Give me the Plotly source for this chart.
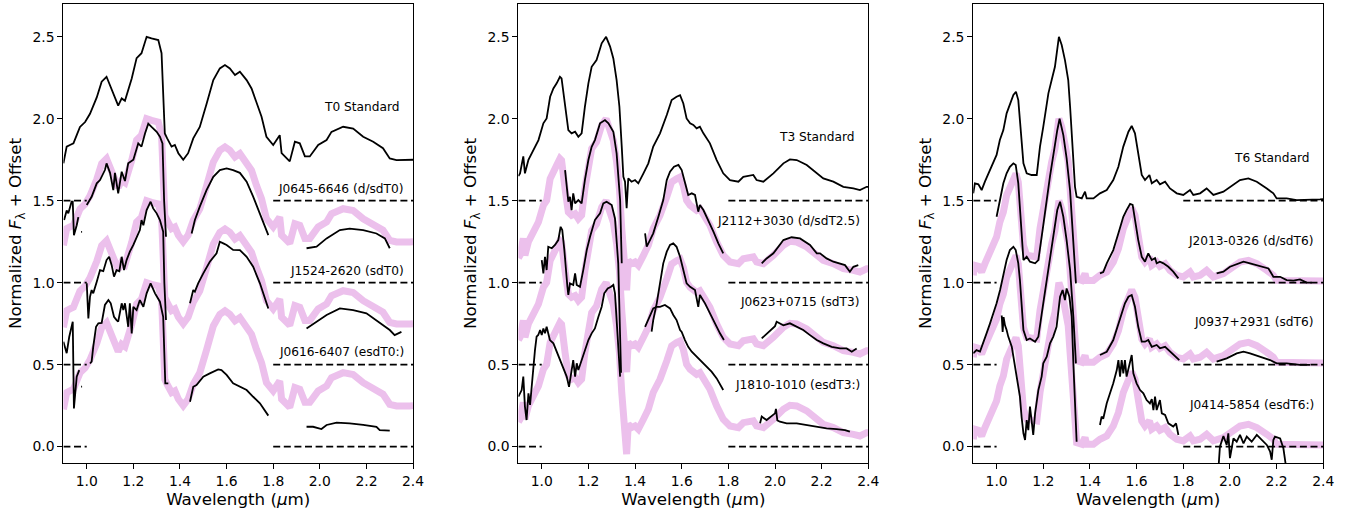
import plotly.graph_objects as go

FONT = "DejaVu Sans"
PINK = "rgb(236,192,236)"
BLACK = "black"

# Zero level of each spectrum in a panel: standard first, then the three objects
zero_levels = [1.5, 1.0, 0.5, 0.0]

# ---------------- T0 panel ----------------
t0_std_wl = [0.900, 0.914, 0.928, 0.943, 0.957, 0.971, 0.993, 1.014, 1.043, 1.064, 1.085, 1.107,
             1.135, 1.150, 1.164, 1.193, 1.214, 1.235, 1.257, 1.278, 1.307, 1.321, 1.335, 1.345,
             1.364, 1.378, 1.393, 1.414, 1.435, 1.457, 1.485, 1.514, 1.543, 1.571, 1.593, 1.614,
             1.636, 1.657, 1.686, 1.707, 1.728, 1.750, 1.771, 1.800, 1.828, 1.836, 1.871, 1.893,
             1.914, 1.936, 1.957, 1.993, 2.029, 2.050, 2.100, 2.143, 2.186, 2.229, 2.271, 2.300,
             2.329, 2.386, 2.400]
t0_std_fx = [1.728, 1.830, 1.840, 1.850, 1.900, 1.950, 1.980, 2.030, 2.130, 2.226, 2.256, 2.175,
             2.080, 2.124, 2.110, 2.246, 2.370, 2.400, 2.500, 2.490, 2.480, 2.400, 1.910, 1.880,
             1.830, 1.840, 1.790, 1.750, 1.790, 1.880, 1.950, 2.090, 2.236, 2.307, 2.328, 2.307,
             2.267, 2.287, 2.236, 2.185, 2.094, 2.012, 1.890, 1.840, 1.900, 1.790, 1.740, 1.860,
             1.850, 1.770, 1.770, 1.840, 1.870, 1.920, 1.951, 1.940, 1.890, 1.860, 1.820, 1.758,
             1.748, 1.748, 1.750]

j0645 = [
    ([0.903, 0.914, 0.921, 0.935, 0.940, 0.945, 0.957, 0.964],
     [1.382, 1.440, 1.423, 1.494, 1.494, 1.290, 1.350, 1.400]),
    ([0.976, 0.980], [1.310, 1.310]),
    ([1.000, 1.021, 1.043, 1.057, 1.078, 1.085, 1.100, 1.114, 1.121, 1.135, 1.150, 1.164, 1.178,
      1.200, 1.221, 1.235, 1.250, 1.264, 1.278, 1.300, 1.314, 1.325, 1.332, 1.340],
     [1.474, 1.524, 1.606, 1.626, 1.687, 1.728, 1.670, 1.565, 1.670, 1.545, 1.677, 1.620, 1.728,
      1.750, 1.850, 1.830, 1.910, 1.970, 1.950, 1.920, 1.890, 1.850, 1.500, 1.280]),
    ([1.450, 1.464, 1.485, 1.514, 1.543, 1.571, 1.600, 1.628, 1.657, 1.686, 1.714, 1.743, 1.779],
     [1.300, 1.382, 1.464, 1.565, 1.646, 1.687, 1.697, 1.687, 1.670, 1.616, 1.525, 1.423, 1.290]),
    ([1.943, 1.986, 2.029, 2.086, 2.128, 2.186, 2.243, 2.279, 2.300],
     [1.210, 1.220, 1.270, 1.321, 1.330, 1.320, 1.300, 1.270, 1.210]),
]

j1524 = [
    ([1.000, 1.007, 1.014, 1.021, 1.028, 1.035, 1.043, 1.057, 1.071, 1.085, 1.096, 1.107, 1.117,
      1.128, 1.140, 1.150, 1.160, 1.171, 1.185, 1.200, 1.214, 1.228, 1.235, 1.243, 1.257, 1.274,
      1.285, 1.300, 1.314, 1.321, 1.328, 1.333, 1.340],
     [0.996, 0.782, 0.914, 0.955, 0.935, 0.975, 1.006, 1.077, 1.070, 1.138, 1.158, 1.107, 1.037,
      1.077, 1.070, 1.158, 1.077, 1.138, 1.189, 1.230, 1.280, 1.321, 1.382, 1.350, 1.443, 1.494,
      1.453, 1.423, 1.382, 1.341, 1.311, 1.000, 0.772]),
    ([1.443, 1.457, 1.464, 1.478, 1.500, 1.528, 1.557, 1.571, 1.586, 1.600, 1.628, 1.657, 1.686,
      1.714, 1.743, 1.779],
     [0.874, 0.955, 0.945, 0.996, 1.057, 1.128, 1.179, 1.250, 1.240, 1.230, 1.200, 1.199, 1.158,
      1.097, 0.996, 0.843]),
    ([1.943, 1.986, 2.029, 2.086, 2.143, 2.200, 2.257, 2.300, 2.321, 2.350],
     [0.721, 0.762, 0.803, 0.843, 0.833, 0.813, 0.752, 0.711, 0.680, 0.700]),
]

j0616 = [
    ([0.900, 0.914, 0.925, 0.940, 0.945, 0.957, 0.968],
     [0.640, 0.570, 0.670, 0.762, 0.233, 0.427, 0.467]),
    ([0.976, 0.980], [0.366, 0.366]),
    ([1.014, 1.021, 1.028, 1.040, 1.050, 1.064, 1.078, 1.093, 1.103, 1.117, 1.128, 1.135, 1.150,
      1.157, 1.164, 1.178, 1.185, 1.193, 1.200, 1.214, 1.228, 1.243, 1.257, 1.274, 1.293, 1.314,
      1.328, 1.333, 1.337, 1.350],
     [0.507, 0.518, 0.610, 0.731, 0.752, 0.755, 0.864, 0.894, 0.874, 0.792, 0.772, 0.762, 0.874,
      0.833, 0.874, 0.731, 0.874, 0.690, 0.853, 0.833, 0.894, 0.853, 0.935, 0.996, 0.935, 0.884,
      0.792, 0.500, 0.386, 0.386]),
    ([1.443, 1.457, 1.471, 1.500, 1.528, 1.564, 1.578, 1.600, 1.628, 1.657, 1.686, 1.714, 1.743,
      1.779],
     [0.274, 0.365, 0.375, 0.427, 0.447, 0.471, 0.467, 0.437, 0.386, 0.365, 0.345, 0.304, 0.264,
      0.189]),
    ([1.943, 1.971, 2.007, 2.029, 2.072, 2.128, 2.186, 2.243, 2.257, 2.300],
     [0.121, 0.121, 0.107, 0.132, 0.146, 0.142, 0.132, 0.121, 0.101, 0.097]),
]

# ---------------- T3 panel ----------------
t3_std_wl = [0.900, 0.907, 0.921, 0.928, 0.943, 0.964, 0.986, 1.007, 1.021, 1.036, 1.050, 1.064,
             1.078, 1.085, 1.100, 1.114, 1.128, 1.143, 1.157, 1.171, 1.185, 1.200, 1.214, 1.235,
             1.257, 1.276, 1.293, 1.307, 1.321, 1.333, 1.343, 1.350, 1.357, 1.364, 1.371, 1.385,
             1.400, 1.414, 1.436, 1.457, 1.478, 1.507, 1.536, 1.557, 1.578, 1.593, 1.607, 1.621,
             1.636, 1.650, 1.664, 1.678, 1.693, 1.721, 1.750, 1.778, 1.807, 1.843, 1.864, 1.907,
             1.921, 1.950, 1.993, 2.036, 2.064, 2.093, 2.136, 2.179, 2.207, 2.250, 2.293, 2.336,
             2.364, 2.393, 2.400]
t3_std_fx = [1.650, 1.667, 1.770, 1.667, 1.750, 1.810, 1.870, 1.972, 2.002, 2.134, 2.185, 2.216,
             2.256, 2.246, 2.073, 1.931, 1.911, 1.921, 1.890, 1.911, 2.073, 2.216, 2.317, 2.358,
             2.460, 2.500, 2.440, 2.368, 2.236, 2.073, 1.830, 1.646, 1.616, 1.454, 1.636, 1.616,
             1.626, 1.606, 1.667, 1.728, 1.830, 1.911, 2.023, 2.114, 2.134, 2.144, 2.093, 2.002,
             1.972, 1.962, 1.941, 1.951, 1.911, 1.850, 1.748, 1.667, 1.626, 1.616, 1.646, 1.657,
             1.626, 1.616, 1.667, 1.728, 1.752, 1.748, 1.718, 1.667, 1.636, 1.616, 1.585, 1.575,
             1.565, 1.585, 1.585]

j2112 = [
    ([1.100, 1.107, 1.114, 1.121, 1.128, 1.135, 1.143, 1.157, 1.171, 1.185, 1.200, 1.214, 1.228,
      1.250, 1.271, 1.286, 1.307, 1.321, 1.336, 1.343],
     [1.687, 1.565, 1.494, 1.524, 1.443, 1.545, 1.484, 1.504, 1.484, 1.626, 1.748, 1.829, 1.870,
      1.972, 1.992, 1.972, 1.921, 1.789, 1.504, 1.118]),
    ([1.443, 1.450, 1.464, 1.478, 1.500, 1.521, 1.536, 1.550, 1.567, 1.586, 1.600, 1.614, 1.628,
      1.643, 1.657, 1.671, 1.678, 1.693, 1.714, 1.736, 1.757, 1.778],
     [1.301, 1.220, 1.260, 1.301, 1.402, 1.504, 1.626, 1.677, 1.707, 1.718, 1.687, 1.606, 1.535,
      1.545, 1.535, 1.433, 1.474, 1.443, 1.382, 1.311, 1.240, 1.179]),
    ([1.943, 1.964, 1.993, 2.036, 2.071, 2.107, 2.150, 2.179, 2.193, 2.221, 2.250, 2.279, 2.300,
      2.321, 2.336, 2.357],
     [1.118, 1.148, 1.179, 1.260, 1.277, 1.270, 1.230, 1.179, 1.179, 1.148, 1.128, 1.118, 1.107,
      1.067, 1.097, 1.107]),
]

j0623 = [
    ([1.000, 1.007, 1.014, 1.021, 1.028, 1.043, 1.057, 1.071, 1.081, 1.088, 1.097, 1.103, 1.110,
      1.114, 1.121, 1.135, 1.143, 1.150, 1.164, 1.178, 1.193, 1.207, 1.228, 1.250, 1.264, 1.278,
      1.300, 1.314, 1.321, 1.328, 1.340],
     [1.138, 1.057, 1.158, 1.077, 1.219, 1.210, 1.230, 1.260, 1.341, 1.321, 1.199, 1.077, 0.975,
      0.925, 0.996, 0.986, 1.057, 0.986, 0.975, 1.077, 1.199, 1.280, 1.382, 1.423, 1.484, 1.494,
      1.474, 1.392, 1.260, 1.118, 0.450]),
    ([1.471, 1.478, 1.493, 1.507, 1.521, 1.536, 1.550, 1.564, 1.578, 1.593, 1.607, 1.621, 1.636,
      1.657, 1.671, 1.678, 1.700, 1.721, 1.743, 1.764, 1.781],
     [0.701, 0.772, 0.874, 0.996, 1.118, 1.189, 1.230, 1.240, 1.219, 1.158, 1.077, 0.996, 0.975,
      0.955, 0.853, 0.925, 0.874, 0.813, 0.752, 0.691, 0.650]),
    ([1.943, 1.957, 1.971, 2.000, 2.007, 2.036, 2.064, 2.093, 2.121, 2.150, 2.179, 2.207, 2.243,
      2.279, 2.307, 2.329, 2.350],
     [0.660, 0.680, 0.700, 0.735, 0.762, 0.740, 0.752, 0.731, 0.711, 0.680, 0.650, 0.630, 0.609,
      0.599, 0.599, 0.579, 0.599]),
]

j1810 = [
    ([0.900, 0.914, 0.921, 0.928, 0.935, 0.943, 0.950, 0.957, 0.964, 0.971, 0.978, 0.985, 0.993,
      1.000, 1.007, 1.014, 1.021, 1.028, 1.035, 1.050, 1.064, 1.078, 1.093, 1.107, 1.117, 1.128,
      1.135, 1.143, 1.150, 1.157, 1.171, 1.185, 1.200, 1.214, 1.228, 1.243, 1.257, 1.268, 1.283,
      1.297, 1.307, 1.314, 1.321, 1.328, 1.336],
     [0.305, 0.345, 0.427, 0.244, 0.162, 0.325, 0.254, 0.386, 0.508, 0.589, 0.671, 0.681, 0.711,
      0.681, 0.721, 0.691, 0.731, 0.681, 0.650, 0.630, 0.579, 0.528, 0.477, 0.427, 0.365, 0.467,
      0.528, 0.427, 0.508, 0.467, 0.528, 0.589, 0.650, 0.691, 0.721, 0.792, 0.853, 0.935, 0.965,
      0.975, 0.986, 0.935, 0.792, 0.630, 0.427]),
    ([1.443, 1.457, 1.464, 1.478, 1.493, 1.507, 1.528, 1.550, 1.564, 1.578, 1.593, 1.600, 1.614,
      1.628, 1.643, 1.664, 1.686, 1.707, 1.728, 1.750, 1.764, 1.778],
     [0.731, 0.772, 0.800, 0.843, 0.853, 0.853, 0.864, 0.843, 0.803, 0.772, 0.711, 0.700, 0.650,
      0.609, 0.579, 0.548, 0.518, 0.488, 0.457, 0.416, 0.376, 0.345]),
    ([1.936, 1.943, 1.964, 2.000, 2.004, 2.010, 2.021, 2.050, 2.093, 2.136, 2.179, 2.221, 2.264,
      2.300, 2.321],
     [0.142, 0.183, 0.162, 0.203, 0.230, 0.160, 0.152, 0.142, 0.142, 0.132, 0.121, 0.111, 0.107,
      0.101, 0.091]),
]

# ---------------- T6 panel ----------------
t6_std_wl = [0.900, 0.907, 0.922, 0.936, 0.950, 0.972, 0.986, 1.000, 1.014, 1.029, 1.043, 1.057,
             1.072, 1.083, 1.093, 1.100, 1.107, 1.115, 1.129, 1.150, 1.172, 1.186, 1.200, 1.222,
             1.236, 1.250, 1.267, 1.279, 1.293, 1.307, 1.315, 1.322, 1.329, 1.336, 1.343, 1.365,
             1.379, 1.386, 1.415, 1.443, 1.472, 1.500, 1.522, 1.543, 1.565, 1.579, 1.593, 1.608,
             1.622, 1.636, 1.655, 1.665, 1.686, 1.700, 1.722, 1.743, 1.772, 1.800, 1.829, 1.843,
             1.872, 1.900, 1.929, 1.972, 2.000, 2.043, 2.079, 2.115, 2.158, 2.186, 2.200, 2.243,
             2.286, 2.329, 2.386, 2.400]
t6_std_fx = [1.545, 1.606, 1.600, 1.565, 1.616, 1.687, 1.738, 1.779, 1.870, 1.931, 2.033, 2.083,
             2.145, 2.165, 2.114, 1.992, 1.850, 1.728, 1.667, 1.657, 1.657, 1.830, 1.951, 2.155,
             2.236, 2.317, 2.500, 2.450, 2.358, 2.236, 2.073, 1.911, 1.707, 1.585, 1.524, 1.514,
             1.555, 1.514, 1.514, 1.545, 1.565, 1.626, 1.707, 1.830, 1.921, 1.956, 1.911, 1.789,
             1.657, 1.626, 1.657, 1.606, 1.626, 1.600, 1.616, 1.575, 1.545, 1.535, 1.565, 1.535,
             1.545, 1.575, 1.535, 1.555, 1.585, 1.626, 1.636, 1.616, 1.575, 1.545, 1.514, 1.514,
             1.504, 1.504, 1.508, 1.510]

j2013 = [
    ([1.000, 1.007, 1.015, 1.029, 1.043, 1.057, 1.072, 1.082, 1.093, 1.100, 1.107, 1.115, 1.129,
      1.143, 1.165, 1.179, 1.200, 1.229, 1.260, 1.270, 1.286, 1.300, 1.315, 1.329, 1.340],
     [1.402, 1.453, 1.524, 1.606, 1.667, 1.707, 1.728, 1.718, 1.606, 1.443, 1.280, 1.138, 1.158,
      1.128, 1.118, 1.138, 1.350, 1.650, 1.930, 2.000, 1.900, 1.760, 1.560, 1.280, 0.996]),
    ([1.443, 1.457, 1.472, 1.500, 1.522, 1.543, 1.557, 1.572, 1.583, 1.593, 1.607, 1.622, 1.636,
      1.650, 1.665, 1.679, 1.686, 1.700, 1.715, 1.736, 1.757, 1.779],
     [1.057, 1.065, 1.118, 1.199, 1.301, 1.402, 1.443, 1.480, 1.474, 1.382, 1.260, 1.158, 1.128,
      1.179, 1.138, 1.150, 1.118, 1.128, 1.118, 1.097, 1.067, 1.026]),
    ([1.943, 1.972, 2.000, 2.015, 2.036, 2.058, 2.086, 2.115, 2.143, 2.165, 2.186, 2.215, 2.243,
      2.272, 2.300, 2.329, 2.350],
     [1.057, 1.067, 1.097, 1.105, 1.118, 1.128, 1.118, 1.108, 1.097, 1.087, 1.036, 1.036, 1.016,
      1.012, 1.020, 1.000, 1.000]),
]

j0937 = [
    ([0.900, 0.914, 0.929, 0.943, 0.957, 0.972, 0.986, 1.000, 1.015, 1.029, 1.043, 1.057, 1.072,
      1.082, 1.093, 1.100, 1.107, 1.115, 1.129, 1.143, 1.165, 1.179, 1.200, 1.222, 1.243, 1.260,
      1.272, 1.286, 1.300, 1.315, 1.329, 1.340],
     [0.569, 0.589, 0.580, 0.630, 0.691, 0.752, 0.813, 0.874, 0.955, 1.057, 1.138, 1.199, 1.219,
      1.199, 1.118, 1.016, 0.874, 0.711, 0.650, 0.660, 0.640, 0.670, 0.874, 1.077, 1.280, 1.443,
      1.494, 1.402, 1.260, 1.077, 0.792, 0.508]),
    ([1.443, 1.472, 1.500, 1.529, 1.550, 1.565, 1.579, 1.593, 1.607, 1.622, 1.636, 1.650, 1.665,
      1.686, 1.700, 1.722, 1.743, 1.765, 1.783],
     [0.559, 0.579, 0.650, 0.772, 0.874, 0.914, 0.925, 0.853, 0.731, 0.640, 0.640, 0.650, 0.609,
      0.620, 0.600, 0.609, 0.579, 0.548, 0.528]),
    ([1.943, 1.986, 2.029, 2.058, 2.086, 2.129, 2.172, 2.200, 2.243, 2.300, 2.343],
     [0.518, 0.538, 0.569, 0.579, 0.569, 0.548, 0.528, 0.508, 0.508, 0.498, 0.498]),
]

j0414 = [
    ([1.022, 1.026, 1.030, 1.036, 1.043, 1.050, 1.065, 1.072, 1.086, 1.093, 1.100, 1.107, 1.115,
      1.122, 1.129, 1.136, 1.143, 1.150, 1.157, 1.165, 1.179, 1.193, 1.200, 1.215, 1.229, 1.243,
      1.257, 1.272, 1.283, 1.293, 1.300, 1.312, 1.322, 1.329, 1.336, 1.343],
     [0.800, 0.700, 0.790, 0.740, 0.711, 0.671, 0.610, 0.548, 0.447, 0.365, 0.305, 0.183, 0.081,
      0.040, 0.162, 0.100, 0.244, 0.160, 0.071, 0.203, 0.345, 0.427, 0.508, 0.548, 0.630, 0.671,
      0.731, 0.914, 0.955, 0.894, 0.965, 0.914, 0.793, 0.508, 0.203, 0.030]),
    ([1.443, 1.450, 1.457, 1.472, 1.486, 1.500, 1.515, 1.522, 1.529, 1.536, 1.543, 1.550, 1.557,
      1.572, 1.579, 1.586, 1.600, 1.615, 1.629, 1.643, 1.657, 1.665, 1.672, 1.679, 1.686, 1.700,
      1.708, 1.722, 1.736, 1.757, 1.769, 1.779],
     [0.132, 0.183, 0.170, 0.264, 0.325, 0.386, 0.467, 0.528, 0.427, 0.528, 0.447, 0.528, 0.427,
      0.528, 0.559, 0.447, 0.386, 0.345, 0.325, 0.284, 0.264, 0.290, 0.223, 0.305, 0.223, 0.284,
      0.203, 0.193, 0.142, 0.122, 0.142, 0.071]),
    ([1.950, 1.957, 1.972, 1.986, 1.993, 2.000, 2.015, 2.029, 2.043, 2.058, 2.072, 2.093, 2.115,
      2.136, 2.158, 2.172, 2.179, 2.186, 2.193, 2.215, 2.229, 2.243],
     [-0.150, 0.000, 0.065, 0.010, 0.081, -0.070, 0.050, 0.030, 0.071, 0.020, 0.061, 0.030, 0.071,
      0.040, 0.010, -0.030, -0.080, 0.040, 0.061, 0.050, -0.010, -0.150]),
]

panels = [
    dict(std=(t0_std_wl, t0_std_fx), objs=[j0645, j1524, j0616],
         labels=["T0 Standard", "J0645-6646 (d/sdT0)", "J1524-2620 (sdT0)", "J0616-6407 (esdT0:)"],
         label_x=[2.350, 2.367, 2.367, 2.367], label_y=[2.074, 1.570, 1.071, 0.575]),
    dict(std=(t3_std_wl, t3_std_fx), objs=[j2112, j0623, j1810],
         labels=["T3 Standard", "J2112+3030 (d/sdT2.5)", "J0623+0715 (sdT3)", "J1810-1010 (esdT3:)"],
         label_x=[2.347, 2.367, 2.367, 2.367], label_y=[1.886, 1.378, 0.880, 0.376]),
    dict(std=(t6_std_wl, t6_std_fx), objs=[j2013, j0937, j0414],
         labels=["T6 Standard", "J2013-0326 (d/sdT6)", "J0937+2931 (sdT6)", "J0414-5854 (esdT6:)"],
         label_x=[2.346, 2.365, 2.365, 2.365], label_y=[1.762, 1.256, 0.758, 0.254]),
]

x_domains = [[0.0466, 0.3035], [0.3809, 0.6380], [0.7151, 0.9723]]
x_ticks = [1.0, 1.2, 1.4, 1.6, 1.8, 2.0, 2.2, 2.4]
y_ticks = [0.0, 0.5, 1.0, 1.5, 2.0, 2.5]


def join(segments):
    wl, fx = [], []
    for w, f in segments:
        wl += list(w) + [None]
        fx += list(f) + [None]
    return wl[:-1], fx[:-1]


fig = go.Figure()
annotations = []

for i, p in enumerate(panels):
    sfx = "" if i == 0 else str(i + 1)
    xa, ya = "x" + sfx, "y" + sfx
    std_wl, std_fx = p["std"]
    std_zero = zero_levels[0]

    # standard spectrum shifted down onto each object's zero level
    for z in zero_levels[1:]:
        fig.add_trace(go.Scatter(
            x=std_wl, y=[v - (std_zero - z) for v in std_fx], mode="lines",
            line=dict(color=PINK, width=7), xaxis=xa, yaxis=ya,
            hoverinfo="skip", showlegend=False))

    # zero-level markers at both ends of each spectrum
    dx, dy = [], []
    for z in zero_levels:
        dx += [0.9, 1.0, None, 1.8, 2.4, None]
        dy += [z, z, None, z, z, None]
    fig.add_trace(go.Scatter(
        x=dx, y=dy, mode="lines", line=dict(color=BLACK, width=1.7, dash="7px,3.6px"),
        xaxis=xa, yaxis=ya, hoverinfo="skip", showlegend=False))

    fig.add_trace(go.Scatter(
        x=std_wl, y=std_fx, mode="lines", line=dict(color=BLACK, width=1.8),
        xaxis=xa, yaxis=ya, showlegend=False))
    for obj in p["objs"]:
        wl, fx = join(obj)
        fig.add_trace(go.Scatter(
            x=wl, y=fx, mode="lines", line=dict(color=BLACK, width=1.8),
            xaxis=xa, yaxis=ya, showlegend=False))

    for text, lx, ly in zip(p["labels"], p["label_x"], p["label_y"]):
        annotations.append(dict(
            x=lx, y=ly, xref=xa, yref=ya, text=text, showarrow=False,
            xanchor="right", yanchor="middle", borderpad=0,
            font=dict(family=FONT, size=12.2, color=BLACK)))

axis_common = dict(
    showline=True, linecolor=BLACK, linewidth=1.1, mirror=True,
    ticks="outside", ticklen=5, tickwidth=1.1, tickcolor=BLACK,
    showgrid=False, zeroline=False, automargin=False,
    tickfont=dict(family=FONT, size=13.9, color=BLACK),
)

layout = dict(
    width=1361, height=517,
    margin=dict(l=0, r=0, t=4, b=54),
    paper_bgcolor="white", plot_bgcolor="white",
    font=dict(family=FONT, color=BLACK),
    annotations=annotations,
)

for i in range(3):
    sfx = "" if i == 0 else str(i + 1)
    layout["xaxis" + sfx] = dict(
        axis_common, domain=x_domains[i], range=[0.9, 2.4], anchor="y" + sfx,
        tickvals=x_ticks, ticktext=[f"{t:.1f}" for t in x_ticks],
        title=dict(text="Wavelength (<i>μ</i>m)", standoff=4,
                   font=dict(family=FONT, size=16.7, color=BLACK)))
    layout["yaxis" + sfx] = dict(
        axis_common, domain=[0, 1], range=[-0.1, 2.7], anchor="x" + sfx,
        tickvals=y_ticks, ticktext=[f"{t:.1f}" for t in y_ticks],
        title=dict(text="Normalized <i>F</i><sub>λ</sub> + Offset", standoff=6,
                   font=dict(family=FONT, size=16.7, color=BLACK)))

fig.update_layout(**layout)
fig.write_html("out.html")
